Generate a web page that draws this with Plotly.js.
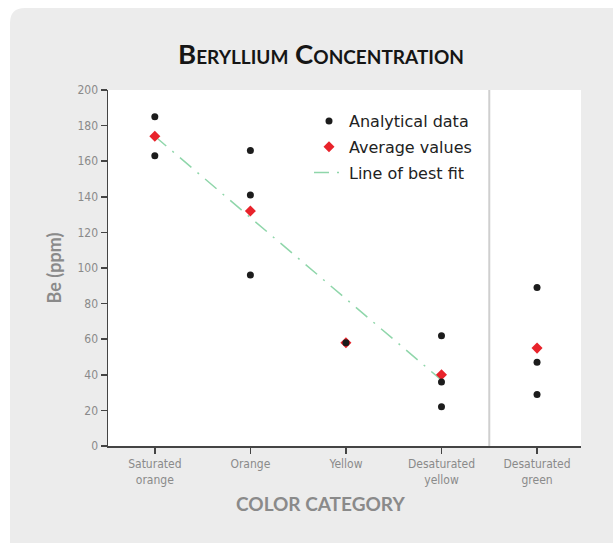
<!DOCTYPE html>
<html>
<head>
<meta charset="utf-8">
<script src="https://cdn.plot.ly/plotly-3.0.1.min.js"></script>
<style>
  html, body { margin: 0; padding: 0; background: #ffffff; }
  #chart { width: 613px; height: 543px; }
</style>
</head>
<body>
<div id="chart"></div>
<script>
// Colour categories along the x axis
const categories = ["Saturated orange", "Orange", "Yellow", "Desaturated yellow", "Desaturated green"];
const tickLabels = ["Saturated<br>orange", "Orange", "Yellow", "Desaturated<br>yellow", "Desaturated<br>green"];

// Be (ppm) measured for each sample, grouped by category
const analyticalValues = [
  [185, 163],
  [166, 141, 96],
  [58],
  [62, 36, 22],
  [89, 47, 29]
];

// Mean Be (ppm) per category
const averageValues = [174, 132, 58, 40, 55];

// Line of best fit through the orange-to-yellow series
const fitCategories = ["Saturated orange", "Desaturated yellow"];
const fitValues = [174, 37];

const yTicks = [0, 20, 40, 60, 80, 100, 120, 140, 160, 180, 200];

// ---- layout geometry ----
const W = 613, H = 543;
const M = { l: 108, r: 32, t: 90, b: 97 };
const plotW = W - M.l - M.r, plotH = H - M.t - M.b;
const px = x => (x - M.l) / plotW;
const py = y => (H - M.b - y) / plotH;

// flatten analytical samples into x/y pairs
const dataX = [], dataY = [];
analyticalValues.forEach((vals, i) => vals.forEach(v => { dataX.push(categories[i]); dataY.push(v); }));

const tickFont = { family: "DejaVu Sans Condensed, DejaVu Sans, sans-serif", size: 12, color: "#8a8a8a" };
const headFont = "Lato, Open Sans, sans-serif";

const traces = [
  {
    type: "scatter", mode: "lines",
    name: "Line of best fit",
    x: fitCategories, y: fitValues,
    line: { color: "#8fd6aa", width: 1.5, dash: "15px,8px,2px,8px" },
    legendrank: 3, legendgroup: "c", hoverinfo: "skip"
  },
  {
    type: "scatter", mode: "markers",
    name: "Average values",
    x: categories, y: averageValues,
    marker: { symbol: "diamond", size: 8.5, color: "#e8232b" },
    legendrank: 2, legendgroup: "b"
  },
  {
    type: "scatter", mode: "markers",
    name: "Analytical data",
    x: dataX, y: dataY,
    marker: { symbol: "circle", size: 7, color: "#1c1c1c" },
    legendrank: 1, legendgroup: "a"
  }
];

const r = 15; // rounded corner of the backdrop panel
const panelPath =
  `M ${px(10)},${py(H)} L ${px(10)},${py(8 + r)} Q ${px(10)},${py(8)} ${px(10 + r)},${py(8)} ` +
  `L ${px(W)},${py(8)} L ${px(W)},${py(H)} Z`;

const layout = {
  width: W, height: H,
  margin: M,
  paper_bgcolor: "#ffffff",
  plot_bgcolor: "rgba(0,0,0,0)",
  showlegend: true,
  title: {
    text: "Beryllium Concentration",
    font: { family: headFont, size: 27.5, weight: 700, variant: "small-caps", color: "#151515" },
    xref: "container", x: 321 / W, xanchor: "center",
    yref: "container", y: 1 - 54 / H, yanchor: "middle"
  },
  xaxis: {
    type: "category",
    categoryorder: "array", categoryarray: categories,
    range: [-0.49, 4.46],
    tickmode: "array", tickvals: categories, ticktext: tickLabels,
    ticks: "outside", ticklen: 6, tickwidth: 1.5, tickcolor: "#444",
    showline: true, linecolor: "#444", linewidth: 1.5,
    showgrid: false, zeroline: false,
    tickfont: tickFont
  },
  yaxis: {
    range: [0, 200],
    tickmode: "array", tickvals: yTicks,
    ticks: "outside", ticklen: 6, tickwidth: 1.5, tickcolor: "#444",
    showline: true, linecolor: "#444", linewidth: 1.5,
    showgrid: false, zeroline: false,
    tickfont: tickFont,
    title: {
      text: "Be (ppm)", standoff: 11,
      font: { family: headFont, size: 18, weight: 700, color: "#8a8a8a" }
    }
  },
  annotations: [
    { text: "COLOR CATEGORY", xref: "paper", yref: "paper",
      x: px(320), xanchor: "center", y: py(503), yanchor: "middle", showarrow: false,
      font: { family: headFont, size: 19, weight: 700, color: "#8a8a8a" } }
  ],
  legend: {
    x: px(309), xanchor: "left",
    y: py(104), yanchor: "top",
    bgcolor: "rgba(0,0,0,0)",
    traceorder: "grouped", tracegroupgap: 2,
    font: { family: "DejaVu Sans, sans-serif", size: 16, color: "#222" }
  },
  shapes: [
    { type: "path", layer: "below", xref: "paper", yref: "paper", path: panelPath,
      fillcolor: "#ececec", line: { width: 0 } },
    { type: "rect", layer: "below", xref: "paper", yref: "paper", x0: 0, x1: 1, y0: 0, y1: 1,
      fillcolor: "#ffffff", line: { width: 0 } },
    { type: "line", layer: "below", xref: "x", yref: "paper", x0: 3.5, x1: 3.5, y0: 0, y1: 1,
      line: { color: "#cfcfcf", width: 2 } }
  ]
};

Plotly.newPlot("chart", traces, layout, { displayModeBar: false, staticPlot: true });
</script>
</body>
</html>
